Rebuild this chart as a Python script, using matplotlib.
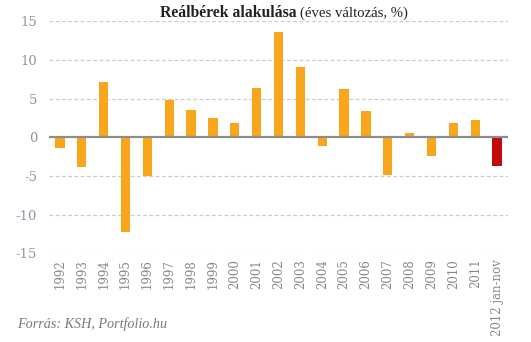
import matplotlib
matplotlib.use("Agg")
import matplotlib.pyplot as plt

categories = ["1992", "1993", "1994", "1995", "1996", "1997", "1998", "1999", "2000",
              "2001", "2002", "2003", "2004", "2005", "2006", "2007", "2008", "2009",
              "2010", "2011", "2012 jan-nov"]
values = [-1.4, -3.9, 7.1, -12.2, -5.0, 4.8, 3.5, 2.5, 1.8,
          6.4, 13.6, 9.1, -1.1, 6.2, 3.4, -4.9, 0.6, -2.4,
          1.8, 2.3, -3.7]
colors = ["#F9A61C"] * 20 + ["#C10A0A"]
yticks = [-15, -10, -5, 0, 5, 10, 15]

W, H = 531, 342
fig = plt.figure(figsize=(W / 100, H / 100), dpi=100)
ax = fig.add_axes([49 / W, 1 - 253.3 / H, 459 / W, (253.3 - 21.3) / H])

x = list(range(len(categories)))
widths = [0.42] * 20 + [0.48]
ax.bar(x, values, width=widths, color=colors, zorder=3)
ax.set_xlim(-0.5, len(categories) - 0.5)
ax.set_ylim(-15, 15)
ax.set_yticks(yticks)
ax.set_yticklabels([str(v) for v in yticks], fontsize=9.5, color="#8A96A6",
                   family="DejaVu Serif")
for v in yticks:
    if v != 0:
        ax.axhline(v, color="#CCCCCC", lw=0.9, ls=(0, (3, 2)), zorder=1)
ax.axhline(0, color="#8C8C8C", lw=1.6, zorder=4)
ax.set_xticks(x)
ax.set_xticklabels(categories, rotation=90, fontsize=8.5, color="#888888",
                   family="DejaVu Serif", va="top")
ax.tick_params(axis="x", length=0, pad=4)
ax.tick_params(axis="y", length=0, pad=8.5)
for s in ax.spines.values():
    s.set_visible(False)

ty = 1 - 13 / H
fig.text(297 / W, ty, "Reálbérek alakulása", fontsize=11.3, fontweight="bold",
         family="Liberation Serif", color="#222222", ha="right", va="center")
fig.text(300 / W, ty, "(éves változás, %)", fontsize=10.6,
         family="Liberation Serif", color="#222222", ha="left", va="center")
fig.text(17 / W, 1 - 324 / H, "Forrás: KSH, Portfolio.hu", fontsize=10.2, style="italic",
         family="Liberation Serif", color="#7A7A7A", ha="left", va="center")

fig.savefig("out.png", dpi=100)
